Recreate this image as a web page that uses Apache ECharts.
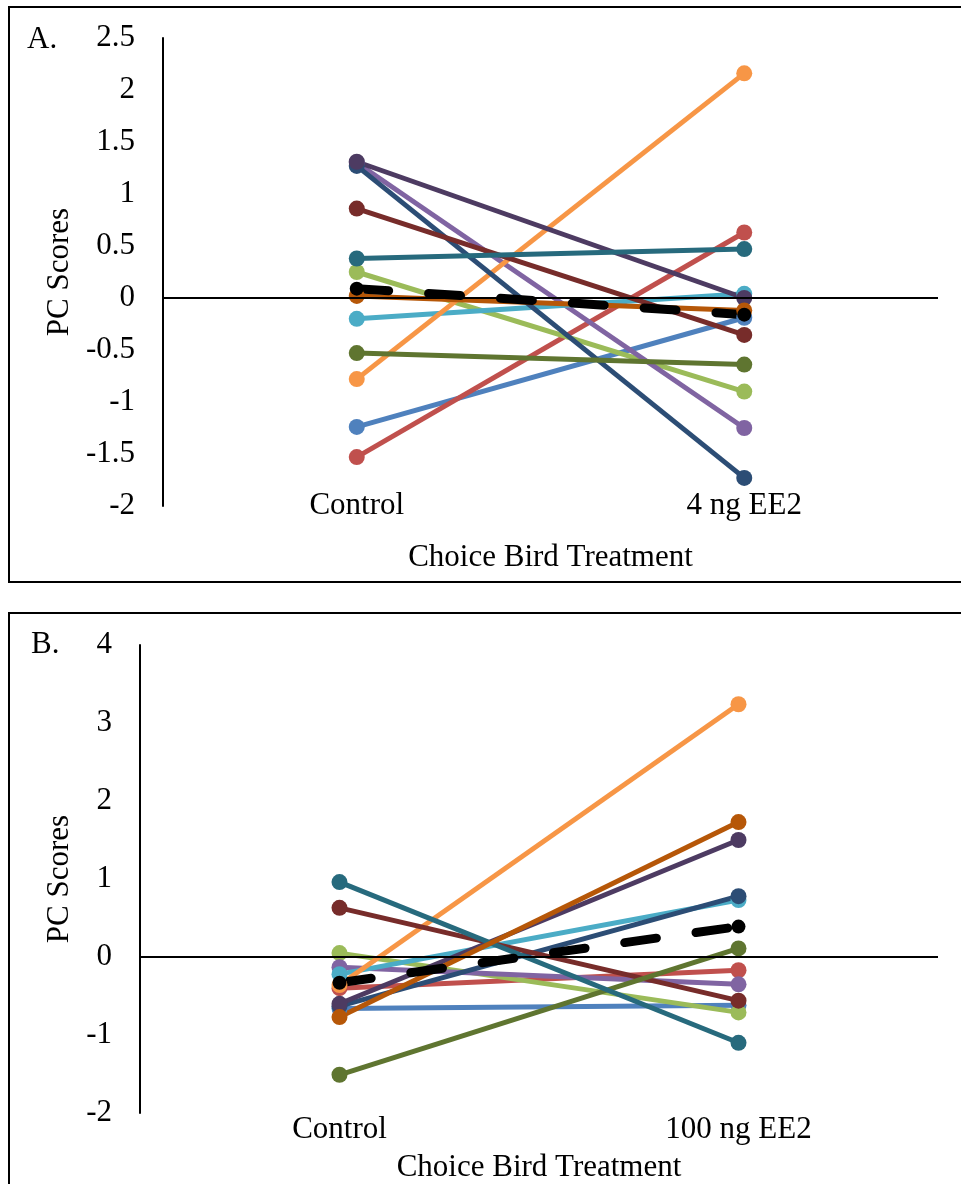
<!DOCTYPE html>
<html>
<head>
<meta charset="utf-8">
<script src="https://cdn.jsdelivr.net/npm/echarts@6/dist/echarts.min.js"></script>
<style>
  html, body { margin: 0; padding: 0; background: #ffffff; }
  #chart { width: 961px; height: 1184px; }
</style>
</head>
<body>
<div id="chart"></div>
<script>
// ---- Data ----
const categoriesA = ['Control', '4 ng EE2'];
const categoriesB = ['Control', '100 ng EE2'];
const birdNames = ['Bird 1','Bird 2','Bird 3','Bird 4','Bird 5','Bird 6','Bird 7','Bird 8','Bird 9','Bird 10','Bird 11','Bird 12'];
const aControl = [-1.24, -1.53, 0.25, 1.30, -0.20, -0.78, 1.27, 0.86, -0.53, 1.31, 0.38, 0.02];
const aEE2     = [-0.19, 0.63, -0.90, -1.25, 0.04, 2.16, -1.73, -0.355, -0.64, 0.00, 0.47, -0.12];
const aMean    = [0.09, -0.16];
const bControl = [-0.66, -0.40, 0.05, -0.13, -0.22, -0.36, -0.63, 0.63, -1.51, -0.60, 0.96, -0.77];
const bEE2     = [-0.62, -0.17, -0.71, -0.35, 0.73, 3.24, 0.78, -0.56, 0.11, 1.50, -1.10, 1.73];
const bMean    = [-0.33, 0.39];
const yTicksA = { min: -2, max: 2.5, interval: 0.5 };
const yTicksB = { min: -2, max: 4, interval: 1 };

// ---- Styles ----
const colors = ['#4F81BD','#C0504D','#9BBB59','#8064A2','#4BACC6','#F79646',
                '#2C4D75','#772C2A','#5F7530','#4D3B62','#276A7D','#B65708'];
const FONT = '"Liberation Serif", "Times New Roman", serif';
const FS = 31;

function panelSeries(ctrl, ee2, mean, idx) {
  const s = [];
  s.push({
    type: 'line', xAxisIndex: idx, yAxisIndex: idx, data: [], silent: true,
    markLine: {
      silent: true, symbol: ['none','none'], label: { show: false },
      lineStyle: { color: '#000', width: 2, type: 'solid' },
      data: [{ yAxis: 0 }]
    }
  });
  for (let i = 0; i < ctrl.length; i++) {
    s.push({
      name: birdNames[i], type: 'line', xAxisIndex: idx, yAxisIndex: idx,
      data: [ctrl[i], ee2[i]],
      symbol: 'circle', symbolSize: 16,
      lineStyle: { color: colors[i], width: 5 },
      itemStyle: { color: colors[i] },
      silent: true, animation: false
    });
  }
  s.push({
    name: 'Mean', type: 'line', xAxisIndex: idx, yAxisIndex: idx,
    data: mean, symbol: 'circle', symbolSize: 14,
    lineStyle: { color: '#000', width: 9, type: [32, 40], cap: 'round' },
    itemStyle: { color: '#000' },
    silent: true, animation: false
  });
  return s;
}

const chart = echarts.init(document.getElementById('chart'), null, { renderer: 'canvas' });
chart.setOption({
  backgroundColor: '#ffffff',
  animation: false,
  textStyle: { fontFamily: FONT },
  grid: [
    { left: 163, right: 23, top: 38, height: 468 },
    { left: 140, right: 23, top: 645, height: 468 }
  ],
  xAxis: [0, 1].map(i => ({
    type: 'category', gridIndex: i,
    data: i === 0 ? categoriesA : categoriesB,
    boundaryGap: true,
    axisLine: { show: false }, axisTick: { show: false }, splitLine: { show: false },
    axisLabel: { color: '#000', fontFamily: FONT, fontSize: FS, margin: i === 0 ? -16 : 1 },
    name: 'Choice Bird Treatment', nameLocation: 'middle', nameGap: i === 0 ? 36 : 39,
    nameTextStyle: { color: '#000', fontFamily: FONT, fontSize: FS }
  })),
  yAxis: [0, 1].map(i => {
    const t = i === 0 ? yTicksA : yTicksB;
    return {
      type: 'value', gridIndex: i, min: t.min, max: t.max, interval: t.interval,
      axisLine: { show: true, onZero: false, lineStyle: { color: '#000', width: 2 } },
      axisTick: { show: false }, splitLine: { show: false },
      axisLabel: { color: '#000', fontFamily: FONT, fontSize: FS, margin: 28 },
      name: 'PC Scores', nameLocation: 'middle', nameRotate: 90,
      nameGap: i === 0 ? 87 : 64,
      nameTextStyle: { color: '#000', fontFamily: FONT, fontSize: FS }
    };
  }),
  graphic: [
    { type: 'rect', shape: { x: 9, y: 7, width: 1000, height: 575 },
      style: { fill: 'none', stroke: '#000', lineWidth: 2 }, silent: true, z: -1 },
    { type: 'rect', shape: { x: 9, y: 613, width: 1000, height: 600 },
      style: { fill: 'none', stroke: '#000', lineWidth: 2 }, silent: true, z: -1 },
    { type: 'text', left: 27, top: 24,
      style: { text: 'A.', font: FS + 'px ' + FONT, fill: '#000' } },
    { type: 'text', left: 31, top: 629,
      style: { text: 'B.', font: FS + 'px ' + FONT, fill: '#000' } }
  ],
  series: [].concat(panelSeries(aControl, aEE2, aMean, 0), panelSeries(bControl, bEE2, bMean, 1))
});
</script>
</body>
</html>
